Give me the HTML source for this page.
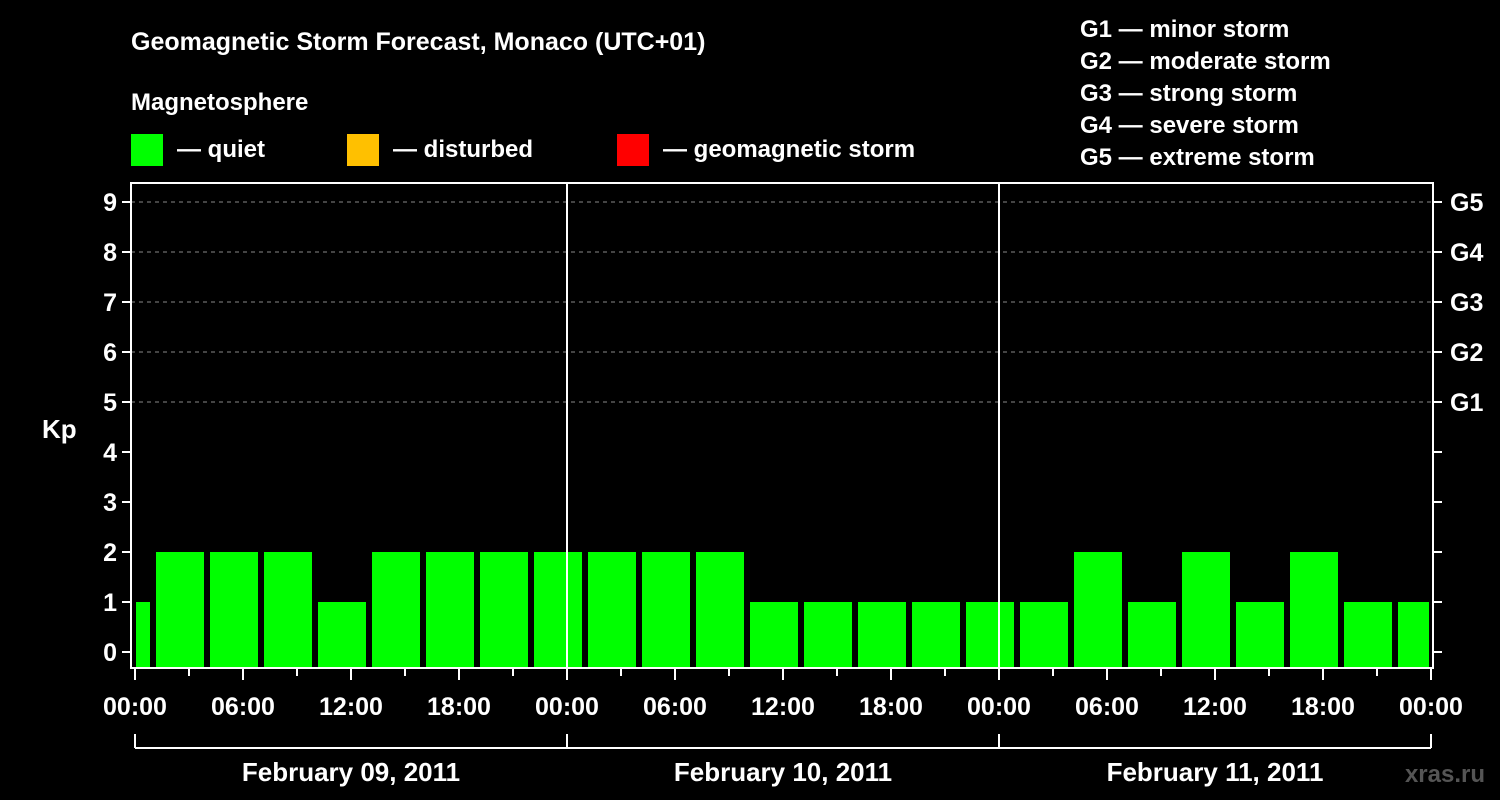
<!DOCTYPE html>
<html><head><meta charset="utf-8"><style>
body{margin:0;background:#000;width:1500px;height:800px;overflow:hidden}
svg{display:block}
text{font-family:"Liberation Sans",sans-serif;font-weight:bold;fill:#fff}
</style></head><body>
<svg id="chart" width="1500" height="800">
<text x="131" y="50" font-size="25">Geomagnetic Storm Forecast, Monaco (UTC+01)</text>
<text x="131" y="110" font-size="24">Magnetosphere</text>
<g><rect x="131" y="134" width="32" height="32" fill="#00ff00"/><text x="177" y="157" font-size="24">— quiet</text></g>
<g><rect x="347" y="134" width="32" height="32" fill="#ffc000"/><text x="393" y="157" font-size="24">— disturbed</text></g>
<g><rect x="617" y="134" width="32" height="32" fill="#ff0000"/><text x="663" y="157" font-size="24">— geomagnetic storm</text></g>
<g font-size="24">
<text x="1080" y="37">G1 — minor storm</text><text x="1080" y="69">G2 — moderate storm</text><text x="1080" y="101">G3 — strong storm</text><text x="1080" y="133">G4 — severe storm</text><text x="1080" y="165">G5 — extreme storm</text></g>
<text x="42" y="438" font-size="26">Kp</text>
<text x="1485" y="782" font-size="24" text-anchor="end" fill="#555" style="fill:#555">xras.ru</text>
<g id="plot"></g>
</svg>
<script>
const kpValues=[1,2,2,2,1,2,2,2,2,2,2,2,1,1,1,1,1,1,2,1,2,1,2,1,1];
const yTicks=[0,1,2,3,4,5,6,7,8,9];
const gLabels=["G1","G2","G3","G4","G5"];
const xTickLabels=["00:00","06:00","12:00","18:00","00:00","06:00","12:00","18:00","00:00","06:00","12:00","18:00","00:00"];
const dayLabels=["February 09, 2011","February 10, 2011","February 11, 2011"];
const startOffsetHours=1;
const NS="http://www.w3.org/2000/svg";
const g=document.getElementById('plot');
const L=131,R=1433,T=183,B=668,X0=135,HX=18;
const xs=h=>X0+h*HX, ys=v=>652-v*50;
function mk(t,a,p){const e=document.createElementNS(NS,t);for(const k in a)e.setAttribute(k,a[k]);(p||g).appendChild(e);return e;}
// grid
for(let v=5;v<=9;v++){const e=mk('line',{x1:L,x2:R,y1:ys(v),y2:ys(v),stroke:'#888','stroke-dasharray':'4,4','stroke-width':1});

}
// bars
kpValues.forEach((v,i)=>{let h0=i===0?0:startOffsetHours+(i-1)*3;let h1=startOffsetHours+i*3;h1=Math.min(h1,72);
let x0=xs(h0)+(i===0?1:3),x1=xs(h1)-3;if(i===kpValues.length-1)x1=xs(h1)-2;
const col=v>=5?'#ff0000':(v>=4?'#ffc000':'#00ff00');
const e=mk('rect',{x:x0,y:ys(v),width:x1-x0,height:B-ys(v),fill:col});

});
// day dividers
[1,2].forEach(d=>{const e=mk('line',{x1:xs(d*24),x2:xs(d*24),y1:T,y2:B,stroke:'#fff','stroke-width':2});

});
// frame
const fr=mk('rect',{x:L,y:T,width:R-L,height:B-T,fill:'none',stroke:'#fff','stroke-width':2});


// y ticks
yTicks.forEach(v=>{mk('line',{x1:L-9,x2:L,y1:ys(v),y2:ys(v),stroke:'#fff','stroke-width':2});
mk('line',{x1:R,x2:R+9,y1:ys(v),y2:ys(v),stroke:'#fff','stroke-width':2});
const t=mk('text',{x:L-14,y:ys(v)+9,'font-size':25,'text-anchor':'end'});t.textContent=v;

});
gLabels.forEach((s,i)=>{const t=mk('text',{x:1450,y:ys(5+i)+9,'font-size':25});t.textContent=s;

});
// x ticks
for(let h=0;h<=72;h+=3){mk('line',{x1:xs(h),x2:xs(h),y1:B,y2:h%6===0?B+12:B+8,stroke:'#fff','stroke-width':2});}
xTickLabels.forEach((s,i)=>{const t=mk('text',{x:xs(i*6),y:715,'font-size':25,'text-anchor':'middle'});t.textContent=s;

});
// day bracket
mk('line',{x1:xs(0),x2:xs(72),y1:748,y2:748,stroke:'#fff','stroke-width':2});
for(let d=0;d<=3;d++)mk('line',{x1:xs(d*24),x2:xs(d*24),y1:734,y2:748,stroke:'#fff','stroke-width':2});
dayLabels.forEach((s,i)=>{const t=mk('text',{x:xs(i*24+12),y:781,'font-size':26,'text-anchor':'middle'});t.textContent=s;

});
</script>
</body></html>
